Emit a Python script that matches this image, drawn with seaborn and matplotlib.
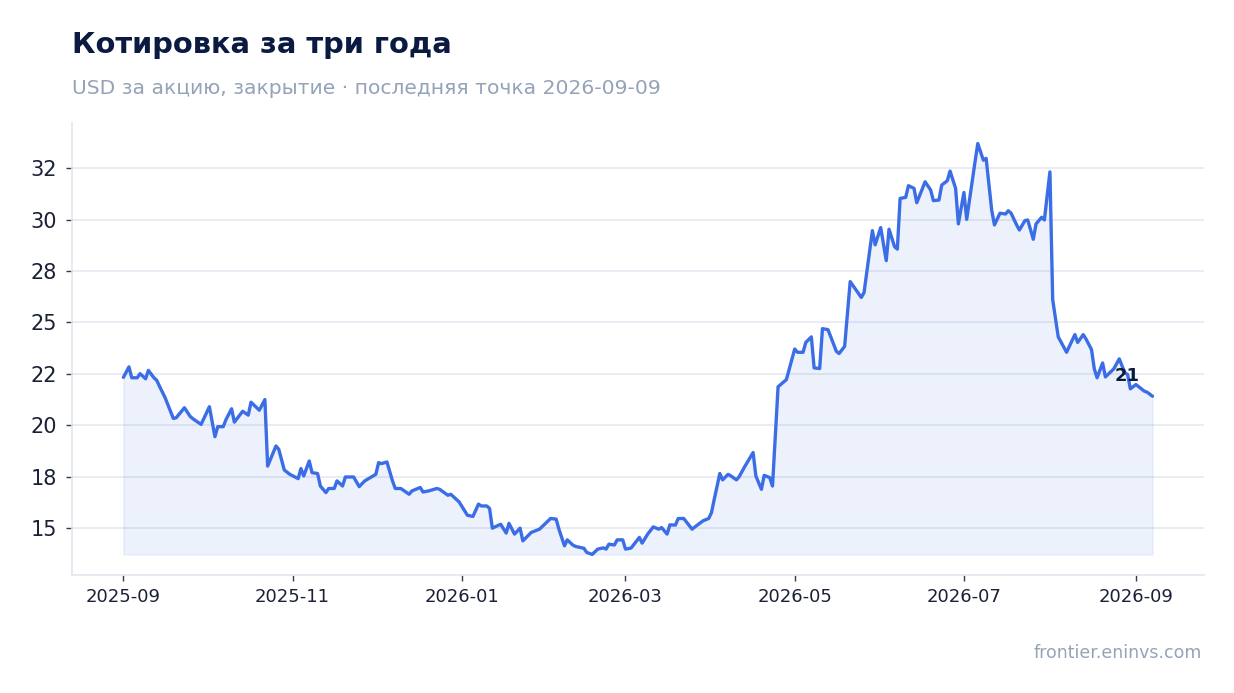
import matplotlib
matplotlib.use("Agg")
import matplotlib.pyplot as plt
import matplotlib.dates as mdates
from matplotlib.ticker import MultipleLocator, StrMethodFormatter
import pandas as pd
import seaborn as sns

# values
start = "2025-09-01"
day = [0, 2, 3, 5, 6, 8, 9, 11, 12, 13, 15, 18, 19, 22, 24, 25, 28, 31, 33, 34,
       36, 37, 39, 40, 43, 45, 46, 49, 51, 52, 55, 56, 58, 60, 63, 64, 65, 67, 68, 70,
       71, 73, 74, 76, 77, 79, 80, 83, 85, 87, 89, 91, 92, 93, 95, 97, 98, 100, 103, 104,
       107, 108, 110, 113, 114, 117, 118, 121, 123, 124, 126, 128, 129, 131, 132, 133, 136, 138, 139, 141,
       143, 144, 147, 150, 151, 154, 156, 157, 159, 160, 162, 163, 166, 167, 169, 171, 173, 174, 175, 177,
       178, 180, 181, 183, 186, 187, 189, 191, 193, 194, 196, 197, 199, 200, 202, 205, 207, 209, 211, 212,
       213, 215, 216, 218, 219, 221, 222, 224, 227, 228, 230, 231, 233, 234, 236, 239, 240, 242, 243, 245,
       246, 248, 249, 251, 252, 254, 257, 258, 260, 262, 266, 267, 270, 271, 273, 275, 276, 278, 279, 280,
       282, 283, 285, 286, 289, 291, 292, 294, 295, 297, 298, 300, 301, 303, 304, 305, 307, 308, 310, 311,
       313, 314, 316, 318, 319, 320, 322, 323, 325, 326, 328, 329, 331, 332, 334, 335, 337, 340, 343, 344,
       346, 347, 349, 350, 351, 353, 354, 357, 359, 361, 362, 363, 365, 367, 368, 369, 371]
close = [22.33, 22.84, 22.31, 22.31, 22.51, 22.26, 22.67, 22.31, 22.19, 21.90, 21.35, 20.33, 20.36, 20.85, 20.44, 20.32, 20.04, 20.90, 19.44, 19.93,
         19.93, 20.28, 20.80, 20.15, 20.68, 20.49, 21.12, 20.73, 21.25, 18.01, 18.99, 18.83, 17.82, 17.61, 17.40, 17.89, 17.53, 18.26, 17.69, 17.65,
         17.04, 16.72, 16.92, 16.92, 17.29, 17.04, 17.48, 17.48, 17.01, 17.29, 17.45, 17.61, 18.18, 18.13, 18.21, 17.29, 16.92, 16.92, 16.64, 16.80,
         16.97, 16.75, 16.80, 16.92, 16.88, 16.59, 16.64, 16.27, 15.83, 15.62, 15.56, 16.16, 16.07, 16.07, 15.95, 14.99, 15.18, 14.75, 15.22, 14.70,
         14.99, 14.37, 14.78, 14.94, 15.07, 15.46, 15.43, 14.94, 14.13, 14.42, 14.17, 14.10, 14.01, 13.81, 13.71, 13.97, 14.03, 13.97, 14.21, 14.17,
         14.42, 14.42, 13.97, 14.02, 14.54, 14.26, 14.70, 15.05, 14.94, 15.02, 14.70, 15.15, 15.14, 15.46, 15.46, 14.94, 15.15, 15.35, 15.46, 15.75,
         16.40, 17.65, 17.34, 17.61, 17.53, 17.34, 17.50, 17.99, 18.67, 17.53, 16.88, 17.56, 17.45, 17.04, 21.87, 22.22, 22.71, 23.71, 23.55, 23.55,
         24.03, 24.30, 22.79, 22.76, 24.70, 24.65, 23.60, 23.49, 23.84, 26.99, 26.22, 26.46, 29.47, 28.78, 29.62, 28.01, 29.54, 28.69, 28.57, 31.04,
         31.09, 31.66, 31.53, 30.83, 31.85, 31.45, 30.93, 30.96, 31.69, 31.90, 32.37, 31.53, 29.80, 31.33, 30.02, 30.96, 32.82, 33.71, 32.90, 32.99,
         30.48, 29.75, 30.32, 30.28, 30.44, 30.32, 29.75, 29.50, 29.96, 29.99, 29.05, 29.80, 30.12, 29.99, 32.33, 26.11, 24.30, 23.55, 24.41, 24.03,
         24.41, 24.20, 23.68, 22.74, 22.31, 23.03, 22.35, 22.74, 23.23, 22.55, 22.47, 21.77, 21.98, 21.77, 21.66, 21.61, 21.41]

title = "Котировка за три года"
subtitle = "USD за акцию, закрытие · последняя точка 2026-09-09"
source = "frontier.eninvs.com"

df = pd.DataFrame({"date": pd.Timestamp(start) + pd.to_timedelta(day, unit="D"),
                   "close": close})

sns.set_theme(style="white")
plt.rcParams["font.family"] = ["DejaVu Sans"]

line_c = "#3b6ee6"
navy = "#0b1a40"
grey = "#94a3b8"

fig = plt.figure(figsize=(12.34, 6.93), dpi=100)
ax = fig.add_axes([0.0583, 0.1703, 0.9174, 0.6522])

ax.fill_between(df["date"], df["close"], df["close"].min(),
                color=line_c, alpha=0.09, linewidth=1)
sns.lineplot(data=df, x="date", y="close", ax=ax, color=line_c, linewidth=2.4)

ax.yaxis.set_major_locator(MultipleLocator(2.5))
ax.yaxis.set_major_formatter(StrMethodFormatter("{x:.0f}"))
ax.xaxis.set_major_locator(mdates.MonthLocator(bymonth=[1, 3, 5, 7, 9, 11]))
ax.xaxis.set_major_formatter(mdates.DateFormatter("%Y-%m"))

ax.grid(axis="y", color="#e3e7f0", linewidth=1.1)
ax.set_axisbelow(True)
for s in ["top", "right"]:
    ax.spines[s].set_visible(False)
for s in ["left", "bottom"]:
    ax.spines[s].set_color("#e2e8f0")
    ax.spines[s].set_linewidth(1.2)

ax.tick_params(axis="y", labelsize=15, colors="#333a48", labelcolor="#1a2035",
               length=4.5, width=1, pad=6, left=True)
ax.tick_params(axis="x", labelsize=13, colors="#333a48", labelcolor="#1a2035",
               length=4.5, width=1, pad=5, bottom=True)
ax.set_xlabel("")
ax.set_ylabel("")

last = df.iloc[-1]
ax.annotate(f"{round(last['close'])}", xy=(last["date"], last["close"]),
            xytext=(-13, 20), textcoords="offset pixels", ha="right", va="center",
            fontsize=13, fontweight="bold", color=navy)

fig.text(0.0583, 0.923, title, fontsize=20.8, fontweight="bold", color=navy, va="baseline")
fig.text(0.0583, 0.8644, subtitle, fontsize=14.6, color=grey, va="baseline")
fig.text(0.974, 0.0505, source, fontsize=12.5, color=grey, ha="right", va="baseline")

fig.savefig("out.png", dpi=100)
